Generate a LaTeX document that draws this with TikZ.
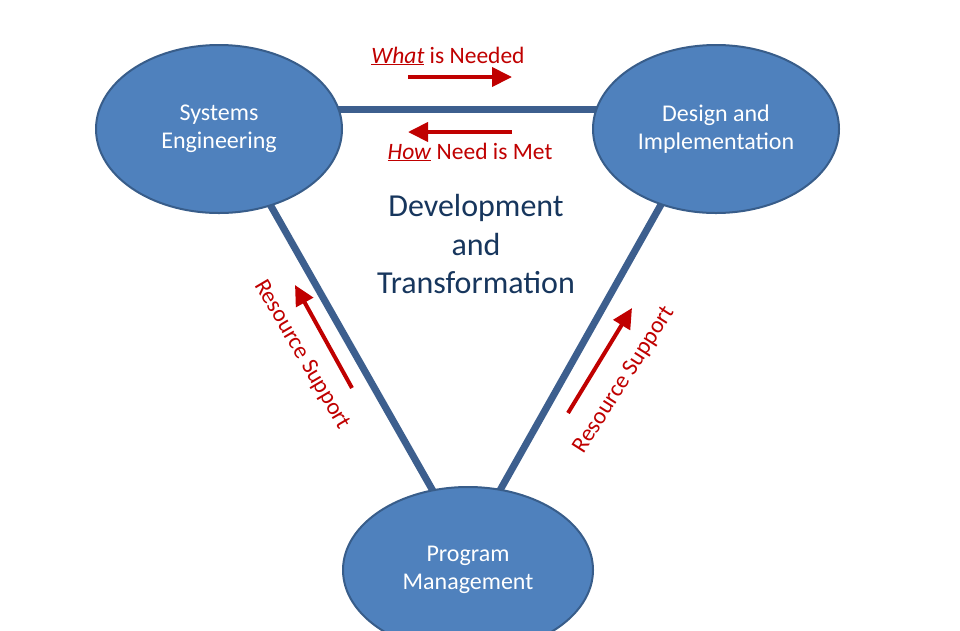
\documentclass[tikz,border=0pt]{standalone}
\usepackage{fontspec}
\setmainfont{Carlito}
\usetikzlibrary{arrows.meta,shapes.geometric,calc}
\pgfdeclarelayer{background}
\pgfsetlayers{background,main}
\definecolor{fillblue}{HTML}{4F81BD}
\definecolor{edgeblue}{HTML}{385D8A}
\definecolor{linkblue}{HTML}{3D5F8E}
\definecolor{darkred}{HTML}{C00000}
\definecolor{navy}{HTML}{17365D}
\begin{document}
\begin{tikzpicture}[x=1pt,y=-1pt,
  bubble/.style={ellipse, draw=edgeblue, line width=2pt, fill=fillblue,
    minimum width=246pt, minimum height=168pt, inner sep=0pt, text=white,
    align=center, font=\fontsize{24}{28}\selectfont},
  link/.style={draw=linkblue, line width=7pt},
  flow/.style={draw=darkred, line width=4pt, -{Triangle[length=20pt,width=19pt]}},
  redlabel/.style={text=darkred, font=\fontsize{23.5}{28}\selectfont, inner sep=0pt},
  centerlabel/.style={text=navy, font=\fontsize{32}{38.5}\selectfont, align=center, inner sep=0pt}]
\useasboundingbox (0,0) rectangle (960,630);
\clip (0,0) rectangle (960,630);

\node[bubble] (se) at (219,129) {Systems\\Engineering};
\node[bubble] (di) at (716,129) {Design and\\Implementation};
\node[bubble, minimum width=250pt, minimum height=166pt] (pm) at (468,570) {Program\\Management};

\begin{pgfonlayer}{background}
\fill[white] (0,0) rectangle (960,630);
\draw[link] ($(se.center)+(0,-20)$) -- ($(di.center)+(0,-20)$);
\draw[link] ($(se.-56)!-0.1!(pm.114)$) -- ($(se.-56)!1.1!(pm.114)$);
\draw[link] ($(di.-126)!-0.1!(pm.68)$) -- ($(di.-126)!1.1!(pm.68)$);
\end{pgfonlayer}

\node[redlabel, anchor=base] (what) at (448,63) {\underline{\textit{What}} is Needed};
\node[redlabel, anchor=base] (how) at (470,159) {\underline{\textit{How}} Need is Met};

\coordinate (w1) at (408,77);
\coordinate (w2) at (512,77);
\coordinate (h1) at (512,132);
\coordinate (h2) at (408,132);
\draw[flow] (w1) -- (w2);
\draw[flow] (h1) -- (h2);

\node[centerlabel] (dev) at (476,244) {Development\\and\\Transformation};

\node[redlabel, rotate=-59.5] (rsl) at (302,355) {Resource Support};
\node[redlabel, rotate=57.5] (rsr) at (624,380) {Resource Support};

\coordinate (l1) at (352,388);
\coordinate (l2) at (295,285);
\coordinate (r1) at (568,413);
\coordinate (r2) at (632,308);
\draw[flow] (l1) -- (l2);
\draw[flow] (r1) -- (r2);
\end{tikzpicture}
\end{document}
